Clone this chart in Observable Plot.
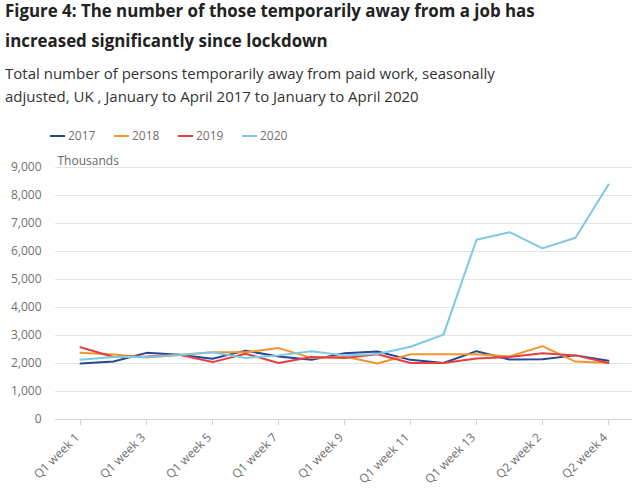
<!DOCTYPE html>
<html>
<head>
<meta charset="utf-8">
<script src="https://cdn.jsdelivr.net/npm/d3@7"></script>
<script src="https://cdn.jsdelivr.net/npm/@observablehq/plot@0.6"></script>
<style>
  html, body { margin: 0; padding: 0; background: #fff; }
  body { width: 640px; height: 491px; position: relative; overflow: hidden; font-family: "Open Sans", sans-serif; }
  #title { position: absolute; left: 5px; top: -4px; width: 635px; font-size: 17px; font-weight: 700; line-height: 30px; color: #222; white-space: nowrap; }
  #subtitle { position: absolute; left: 5px; top: 62px; width: 635px; font-size: 15px; line-height: 23px; color: #333; white-space: nowrap; }
  #legend { position: absolute; left: 50px; top: 127px; height: 18px; display: flex; font-size: 12px; color: #707070; line-height: 18px; }
  .item { display: flex; align-items: center; width: 64px; }
  .sw { width: 15px; height: 2px; margin-right: 3px; }
  #chart { position: absolute; left: 0; top: 145px; }
</style>
</head>
<body>
<div id="title"></div>
<div id="subtitle"></div>
<div id="legend"></div>
<div id="chart"></div>
<script>
const titleLines = ["Figure 4: The number of those temporarily away from a job has", "increased significantly since lockdown"];
const subtitleLines = ["Total number of persons temporarily away from paid work, seasonally", "adjusted, UK , January to April 2017 to January to April 2020"];
const weeks = ["Q1 week 1","Q1 week 2","Q1 week 3","Q1 week 4","Q1 week 5","Q1 week 6","Q1 week 7","Q1 week 8","Q1 week 9","Q1 week 10","Q1 week 11","Q1 week 12","Q1 week 13","Q2 week 1","Q2 week 2","Q2 week 3","Q2 week 4"];
const years = ["2017","2018","2019","2020"];
const colors = ["#274796","#F5942D","#E73F40","#7BCAE2"];
const s2017 = [2000, 2070, 2380, 2310, 2170, 2460, 2250, 2130, 2370, 2430, 2130, 2020, 2440, 2140, 2150, 2290, 2100];
const s2018 = [2380, 2320, 2210, 2300, 2400, 2400, 2550, 2200, 2250, 2000, 2330, 2330, 2330, 2250, 2620, 2070, 2020];
const s2019 = [2580, 2230, 2250, 2310, 2050, 2350, 2020, 2230, 2200, 2330, 2020, 2020, 2180, 2230, 2370, 2290, 2020];
const s2020 = [2130, 2230, 2230, 2300, 2400, 2200, 2290, 2440, 2290, 2340, 2600, 3030, 6420, 6690, 6110, 6490, 8390];
const yTicks = [0,1000,2000,3000,4000,5000,6000,7000,8000,9000];
const xTickLabels = ["Q1 week 1","Q1 week 3","Q1 week 5","Q1 week 7","Q1 week 9","Q1 week 11","Q1 week 13","Q2 week 2","Q2 week 4"];
const yLabel = "Thousands";

// fit heading font sizes to the widths seen in the reference
const ctx = document.createElement("canvas").getContext("2d");
function fitSize(text, weight, target) {
  ctx.font = `${weight} 100px "Open Sans"`;
  return 100 * target / ctx.measureText(text).width;
}
const titleEl = document.getElementById("title");
titleEl.style.fontSize = fitSize(titleLines[0], 700, 530).toFixed(2) + "px";
titleLines.forEach((t, i) => { if (i) titleEl.appendChild(document.createElement("br")); titleEl.appendChild(document.createTextNode(t)); });
const subEl = document.getElementById("subtitle");
subEl.style.fontSize = fitSize(subtitleLines[0], 400, 490).toFixed(2) + "px";
subtitleLines.forEach((t, i) => { if (i) subEl.appendChild(document.createElement("br")); subEl.appendChild(document.createTextNode(t)); });

const series = [s2017, s2018, s2019, s2020];
const table = [];
years.forEach((yr, j) => weeks.forEach((w, i) => table.push({year: yr, week: w, value: series[j][i]})));

const legend = document.getElementById("legend");
years.forEach((yr, j) => {
  const it = document.createElement("div");
  it.className = "item";
  it.innerHTML = `<span class="sw" style="background:${colors[j]}"></span><span>${yr}</span>`;
  legend.appendChild(it);
});

const chart = Plot.plot({
  width: 640,
  height: 346,
  marginTop: 22,
  marginBottom: 72,
  marginLeft: 55,
  marginRight: 8,
  style: {fontFamily: "Open Sans", fontSize: "12px", color: "#707070", background: "#fff", overflow: "visible"},
  x: {type: "point", domain: weeks, padding: 0.55},
  y: {domain: [0, 9000]},
  color: {domain: years, range: colors},
  marks: [
    Plot.gridY(yTicks, {stroke: "#e4e4e4", strokeOpacity: 1}),
    Plot.ruleY([0], {stroke: "#cfd4d8"}),
    Plot.axisY(yTicks, {tickSize: 0, tickPadding: 14, tickFormat: d3.format(","), label: null}),
    Plot.axisX(xTickLabels, {tickSize: 6, tickRotate: -45, label: null, stroke: "#cfd4d8", text: null}),
    Plot.axisX(xTickLabels, {tickSize: 6, tickRotate: -45, label: null, stroke: null, dx: -3, dy: 4}),
    Plot.line(table, {x: "week", y: "value", stroke: "year", z: "year", strokeWidth: 2}),
    Plot.text([yLabel], {frameAnchor: "top-left", dx: 2, dy: -11, textAnchor: "start", fill: "#666"})
  ]
});
document.getElementById("chart").appendChild(chart);
</script>
</body>
</html>
